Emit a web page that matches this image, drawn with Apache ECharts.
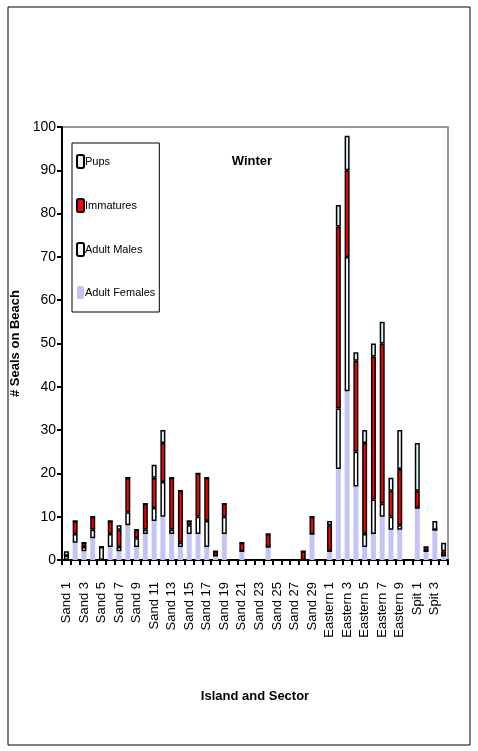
<!DOCTYPE html>
<html>
<head>
<meta charset="utf-8">
<script src="https://cdn.jsdelivr.net/npm/echarts@6/dist/echarts.min.js"></script>
<style>
  html, body { margin: 0; padding: 0; background: #fff; }
  #chart { width: 478px; height: 751px; }
</style>
</head>
<body>
<div id="chart"></div>
<script>
// 类目：Sand 1-30, Eastern 1-10, Spit 1-4
var categories = [];
for (var i = 1; i <= 30; i++) categories.push("Sand " + i);
for (var j = 1; j <= 10; j++) categories.push("Eastern " + j);
for (var k = 1; k <= 4; k++) categories.push("Spit " + k);

// 各组数据
var adultFemales = [0, 4, 2, 5, 0, 3, 2, 8, 3, 6, 9, 10, 6, 3, 6, 6, 3, 1, 6, 0,
  2, 0, 0, 3, 0, 0, 0, 0, 6, 0,
  2, 21, 39, 17, 3, 6, 10, 7, 7, 0,
  12, 2, 7, 1];
var adultMales = [1, 2, 1, 2, 3, 3, 1, 3, 2, 1, 3, 8, 1, 1, 2, 4, 6, 0, 4, 0,
  0, 0, 0, 0, 0, 0, 0, 0, 0, 0,
  0, 14, 31, 8, 3, 8, 3, 3, 1, 0,
  0, 0, 0, 0];
var immatures = [0, 3, 1, 3, 0, 3, 4, 8, 2, 6, 7, 9, 12, 12, 1, 10, 10, 1, 3, 0,
  2, 0, 0, 3, 0, 0, 0, 2, 4, 0,
  6, 42, 20, 21, 21, 33, 37, 6, 13, 0,
  4, 1, 0, 1];
var pups = [1, 0, 0, 0, 0, 0, 1, 0, 0, 0, 3, 3, 0, 0, 0, 0, 0, 0, 0, 0,
  0, 0, 0, 0, 0, 0, 0, 0, 0, 0,
  1, 5, 8, 2, 3, 3, 5, 3, 9, 0,
  11, 0, 2, 2];

var yTicks = { min: 0, max: 100, interval: 10 };

var myChart = echarts.init(document.getElementById("chart"));

function bar(name, data, color, border) {
  return {
    name: name,
    type: "bar",
    stack: "all",
    barWidth: 5,
    data: data,
    itemStyle: {
      color: color,
      borderColor: border ? "#000" : color,
      borderWidth: border ? 1.5 : 0,
    },
  };
}

var font = "Liberation Sans, Arial, sans-serif";

var option = {
  animation: false,
  textStyle: { fontFamily: font },
  title: {
    text: "Winter",
    left: 247,
    top: 150,
    textAlign: "center",
    textStyle: { fontSize: 13, fontWeight: "bold", color: "#000", fontFamily: font },
  },
  legend: {
    orient: "vertical",
    left: 72,
    top: 143,
    padding: [11, 4, 13, 4],
    itemGap: 29,
    itemWidth: 7,
    itemHeight: 13,
    borderColor: "#000",
    borderWidth: 1,
    backgroundColor: "#fff",
    textStyle: { fontSize: 11, color: "#000", fontFamily: font, padding: [0, 0, 0, -4] },
    data: ["Pups", "Immatures", "Adult Males", "Adult Females"],
  },
  grid: { left: 62, right: 30, top: 127, bottom: 191, show: true, borderColor: "#999", borderWidth: 2 },
  xAxis: {
    type: "category",
    data: categories,
    name: "Island and Sector",
    nameLocation: "middle",
    nameGap: 130,
    nameTextStyle: { fontSize: 13, fontWeight: "bold", color: "#000", fontFamily: font },
    axisLine: { lineStyle: { color: "#000", width: 2 } },
    axisTick: { show: true, alignWithLabel: false, interval: 0, length: 5, lineStyle: { color: "#000", width: 2 } },
    axisLabel: { interval: 1, rotate: 90, fontSize: 13, color: "#000", margin: 22, fontFamily: font },
  },
  yAxis: {
    type: "value",
    min: yTicks.min,
    max: yTicks.max,
    interval: yTicks.interval,
    name: "# Seals on Beach",
    nameLocation: "middle",
    nameGap: 8,
    nameTextStyle: { fontSize: 13, fontWeight: "bold", color: "#000", fontFamily: font },
    axisLine: { show: true, lineStyle: { color: "#000", width: 2 } },
    axisTick: { show: true, inside: false, length: 5, lineStyle: { color: "#000", width: 2 } },
    axisLabel: { fontSize: 14, color: "#000", margin: 6, fontFamily: font },
    splitLine: { show: false },
  },
  graphic: [
    {
      type: "rect",
      shape: { x: 8, y: 7, width: 462, height: 738 },
      style: { fill: "none", stroke: "#000", lineWidth: 1 },
      silent: true,
    },
  ],
  series: [
    bar("Adult Females", adultFemales, "#c4c4f4", false),
    bar("Adult Males", adultMales, "#ffffff", true),
    bar("Immatures", immatures, "#ff0000", true),
    bar("Pups", pups, "#e0f6f6", true),
  ],
};

myChart.setOption(option);
window.addEventListener("resize", function () {
  myChart.resize();
});
</script>
</body>
</html>
